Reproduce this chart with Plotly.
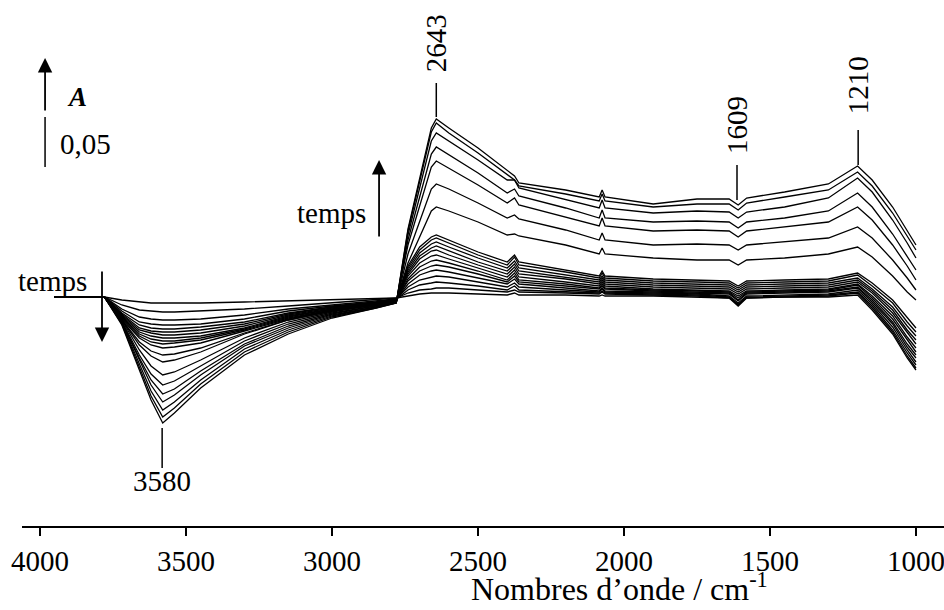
import plotly.graph_objects as go

# wavenumbers (cm-1) of the read-off points
wavenumber = [3950, 3780, 3720, 3660, 3620, 3580, 3540, 3450, 3300, 3150, 3000, 2850, 2780,
              2740, 2700, 2660, 2643, 2600, 2500, 2400, 2375, 2360, 2200, 2085, 2075, 2065,
              1900, 1750, 1640, 1609, 1580, 1450, 1300, 1200, 1150, 1080, 1030, 1000]

# absorbance of each spectrum, in units of 1e-3 A (mA)
t01 = [0, 0, -28, -73, -103, -126, -116, -91, -58, -37, -21, -11, -6, 68, 119, 169, 178, 169, 149, 127, 121, 114, 107, 100, 107, 100, 93, 98, 98, 92, 99, 105, 113, 131, 117, 90, 67, 52]
t02 = [0, 0, -27, -70, -99, -120, -111, -87, -55, -35, -20, -11, -6, 66, 117, 165, 174, 164, 144, 122, 117, 111, 103, 96, 103, 96, 90, 93, 93, 87, 94, 100, 107, 125, 111, 84, 61, 47]
t03 = [0, 0, -26, -67, -94, -113, -105, -83, -52, -33, -19, -10, -6, 62, 110, 156, 164, 156, 137, 117, 117, 109, 97, 89, 97, 89, 84, 86, 85, 79, 85, 90, 99, 119, 105, 77, 54, 39]
t04 = [0, 0, -25, -63, -88, -105, -98, -78, -49, -31, -18, -10, -5, 57, 100, 143, 150, 142, 124, 104, 108, 101, 89, 79, 87, 79, 75, 76, 75, 69, 75, 79, 86, 104, 90, 63, 40, 27]
t05 = [0, 0, -25, -61, -83, -97, -92, -74, -47, -29, -17, -9, -5, 52, 91, 130, 136, 129, 112, 94, 99, 92, 80, 71, 79, 71, 66, 67, 66, 60, 66, 70, 75, 90, 77, 52, 31, 17]
t06 = [0, 0, -24, -58, -77, -88, -84, -69, -44, -27, -16, -9, -5, 43, 76, 108, 113, 108, 94, 79, 82, 78, 67, 57, 64, 57, 52, 53, 52, 47, 52, 55, 59, 70, 59, 37, 19, 7]
t07 = [0, 0, -23, -53, -69, -78, -75, -63, -41, -25, -15, -8, -4, 34, 60, 86, 90, 86, 75, 62, 63, 61, 52, 43, 49, 43, 39, 37, 37, 32, 37, 39, 43, 50, 40, 21, 5, -3]
t08 = [0, 0, -23, -48, -59, -65, -63, -55, -37, -23, -14, -8, -4, 31, 50, 60, 62, 57, 45, 35, 42, 35, 27, 21, 26, 21, 18, 17, 16, 11, 16, 17, 18, 24, 14, -3, -21, -31]
t09 = [0, 0, -23, -45, -54, -58, -57, -51, -36, -23, -14, -8, -4, 29, 47, 57, 59, 54, 42, 32, 40, 32, 25, 19, 24, 19, 16, 15, 14, 9, 14, 15, 16, 22, 11, -6, -25, -35]
t10 = [0, 0, -22, -41, -48, -51, -50, -46, -34, -22, -13, -7, -4, 27, 44, 53, 55, 50, 39, 29, 36, 29, 22, 17, 21, 17, 14, 13, 12, 7, 12, 13, 14, 19, 8, -10, -29, -39]
t11 = [0, 0, -21, -39, -45, -47, -46, -43, -33, -21, -13, -7, -3, 25, 41, 49, 51, 46, 35, 26, 33, 26, 20, 15, 19, 15, 12, 11, 10, 5, 10, 11, 12, 17, 6, -13, -33, -43]
t12 = [0, 0, -20, -37, -42, -44, -44, -41, -32, -20, -12, -7, -3, 23, 38, 46, 47, 42, 32, 23, 30, 23, 18, 13, 17, 13, 10, 9, 8, 3, 8, 9, 10, 15, 4, -16, -36, -47]
t13 = [0, 0, -19, -35, -39, -41, -41, -39, -31, -19, -12, -6, -3, 21, 34, 41, 42, 38, 29, 20, 27, 20, 15, 11, 15, 11, 8, 7, 6, 1, 6, 7, 8, 13, 1, -19, -40, -51]
t14 = [0, 0, -18, -33, -36, -38, -38, -36, -29, -18, -11, -6, -3, 18, 30, 36, 37, 34, 26, 17, 24, 17, 13, 9, 13, 9, 7, 6, 5, -1, 5, 6, 7, 12, -1, -22, -43, -55]
t15 = [0, 0, -17, -31, -34, -35, -35, -33, -27, -17, -10, -6, -3, 16, 26, 31, 32, 30, 23, 15, 21, 15, 11, 8, 11, 8, 6, 5, 4, -3, 4, 5, 6, 10, -3, -25, -47, -58]
t16 = [0, 0, -16, -28, -31, -32, -32, -30, -25, -16, -10, -5, -3, 13, 22, 26, 27, 25, 19, 13, 18, 13, 9, 6, 9, 6, 5, 4, 3, -4, 3, 4, 5, 9, -5, -27, -50, -61]
t17 = [0, 0, -14, -25, -27, -28, -28, -27, -22, -14, -9, -5, -2, 10, 17, 20, 21, 20, 15, 10, 14, 10, 7, 5, 8, 5, 4, 3, 1, -6, 1, 2, 3, 7, -7, -30, -53, -65]
t18 = [0, 0, -12, -20, -22, -23, -23, -22, -18, -12, -8, -4, -2, 7, 12, 14, 15, 14, 11, 7, 11, 7, 5, 4, 6, 4, 3, 2, 0, -8, 0, 1, 2, 5, -9, -33, -56, -68]
t19 = [0, 0, -8, -13, -14, -15, -15, -14, -12, -9, -6, -3, -1, 4, 7, 8, 9, 9, 7, 5, 7, 5, 4, 3, 5, 3, 2, 1, -1, -9, -1, 0, 1, 4, -11, -35, -59, -71]
t20 = [0, 0, -3, -5, -6, -6, -6, -6, -5, -4, -3, -2, -1, 1, 3, 4, 4, 4, 3, 2, 4, 2, 2, 1, 2, 1, 1, 0, -1, -7, -1, 0, 0, 2, -13, -37, -61, -73]

spectra = [t01, t02, t03, t04, t05, t06, t07, t08, t09, t10,
           t11, t12, t13, t14, t15, t16, t17, t18, t19, t20]

tick_values = [4000, 3500, 3000, 2500, 2000, 1500, 1000]
tick_labels = ["4000", "3500", "3000", "2500", "2000", "1500", "1000"]

FONT = "Liberation Serif"

fig = go.Figure()
for s in spectra:
    fig.add_trace(go.Scatter(
        x=wavenumber, y=[v / 1000 for v in s], mode="lines",
        line=dict(color="black", width=1.3), showlegend=False, hoverinfo="skip"))

annotations = []
shapes = []

def txt(x, y, text, size=29, angle=0, yref="y", **kw):
    annotations.append(dict(x=x, y=y, xref="x", yref=yref, text=text, showarrow=False,
                            textangle=angle, font=dict(family=FONT, size=size, color="black"), **kw))

def seg(x0, y0, x1, y1, w=1.5):
    shapes.append(dict(type="line", xref="x", yref="y", x0=x0, y0=y0, x1=x1, y1=y1,
                       line=dict(color="black", width=w)))

def arrow(x, y_tip, y_tail):
    annotations.append(dict(x=x, y=y_tip, ax=x, ay=y_tail, xref="x", yref="y", axref="x", ayref="y",
                            text="", showarrow=True, arrowhead=2, arrowsize=1.6, arrowwidth=1.8,
                            arrowcolor="black"))

# absorbance scale bar
arrow(3983, 0.239, 0.185)
seg(3983, 0.130, 3983, 0.180)
txt(3873, 0.200, "<b><i>A</i></b>", size=27)
txt(3846, 0.153, "0,05", size=29)

# band labels
seg(2643, 0.180, 2643, 0.214)
txt(2643, 0.254, "2643", angle=-90)
seg(1613, 0.097, 1613, 0.132)
txt(1613, 0.172, "1609", angle=-90)
seg(1198, 0.132, 1198, 0.167)
txt(1198, 0.212, "1210", angle=-90)
seg(3582, -0.131, 3582, -0.171)
txt(3582, -0.184, "3580")

# time arrows
txt(3959, 0.016, "temps")
arrow(3788, -0.045, 0.027)
txt(3003, 0.084, "temps")
arrow(2839, 0.137, 0.059)

# axis title (below the plot area)
txt(2014, -0.158, "Nombres d\u2019onde / cm<sup>-1</sup>", size=32, yref="paper", yanchor="bottom")

fig.update_layout(
    width=944, height=610,
    margin=dict(l=22, r=0, t=0, b=84),
    paper_bgcolor="white", plot_bgcolor="white",
    annotations=annotations, shapes=shapes,
    xaxis=dict(range=[4062, 904], tickvals=tick_values, ticktext=tick_labels, automargin=False,
               showline=True, linecolor="black", linewidth=2, ticks="outside",
               ticklen=8, tickwidth=1.5, tickcolor="black", showgrid=False, zeroline=False,
               ticklabeloverflow="allow",
               tickfont=dict(family=FONT, size=29, color="black"), ticklabelstandoff=0),
    yaxis=dict(range=[-0.229, 0.297], visible=False, showgrid=False, zeroline=False,
               automargin=False),
)

fig.write_html("out.html", config={"displayModeBar": False},
               post_script="document.body.style.margin='0';")
